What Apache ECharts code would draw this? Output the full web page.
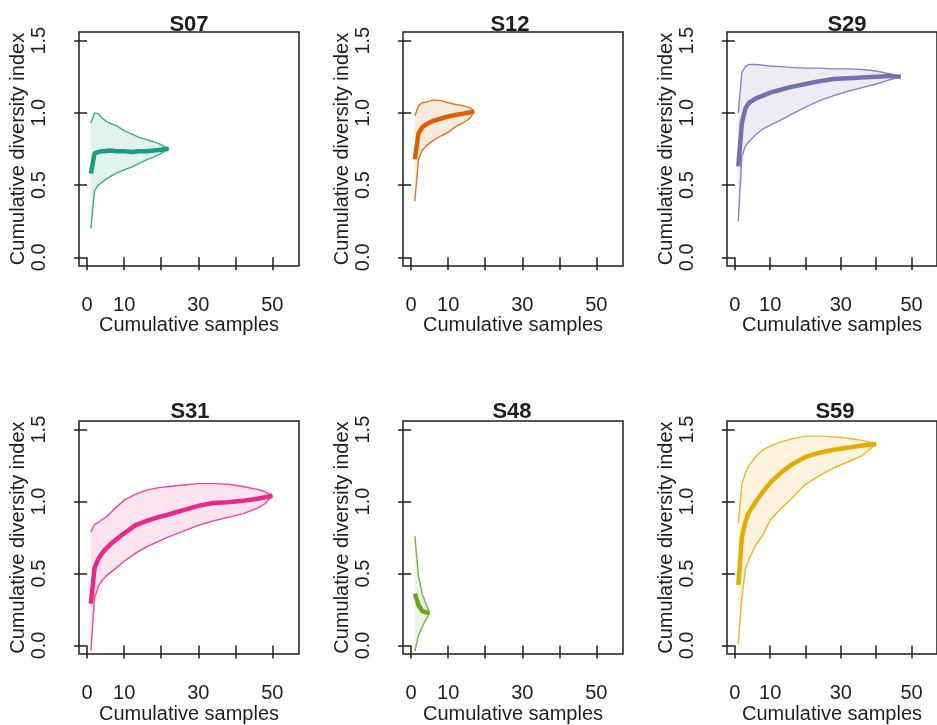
<!DOCTYPE html>
<html lang="en">
<head>
  <meta charset="UTF-8">
  <script src="https://cdn.jsdelivr.net/npm/echarts@6/dist/echarts.min.js"></script>
  <style>
    html, body { margin: 0; padding: 0; background: #fff; }
    #chart { width: 937px; height: 725px; }
  </style>
</head>
<body>
  <div id="chart"></div>
  <script>
    // ticks shared by every panel (R drops the 20 and 40 labels)
    const xTicks = [0, 10, 20, 30, 40, 50];
    const xTickLabels = [0, 10, 30, 50];
    const yTicks = [0, 0.5, 1, 1.5];

    // S07
    const s07Samples = [1, 2, 3, 4, 5, 6, 8, 10, 12, 14, 16, 18, 20, 21, 22];
    const s07Mean  = [0.58, 0.72, 0.73, 0.735, 0.735, 0.74, 0.735, 0.735, 0.73, 0.735, 0.735, 0.74, 0.745, 0.75, 0.75];
    const s07Upper = [0.93, 1.0, 0.995, 0.965, 0.945, 0.93, 0.91, 0.875, 0.855, 0.83, 0.815, 0.8, 0.78, 0.765, 0.75];
    const s07Lower = [0.2, 0.46, 0.5, 0.52, 0.54, 0.555, 0.585, 0.605, 0.625, 0.65, 0.675, 0.695, 0.72, 0.735, 0.75];

    // S12
    const s12Samples = [1, 2, 3, 4, 6, 8, 10, 12, 14, 16, 17];
    const s12Mean  = [0.68, 0.86, 0.9, 0.92, 0.945, 0.96, 0.975, 0.985, 0.995, 1.005, 1.01];
    const s12Upper = [0.98, 1.05, 1.07, 1.075, 1.09, 1.085, 1.07, 1.058, 1.05, 1.035, 1.01];
    const s12Lower = [0.39, 0.68, 0.74, 0.77, 0.81, 0.84, 0.865, 0.905, 0.93, 0.965, 1.01];

    // S29
    const s29Samples = [1, 2, 3, 4, 6, 8, 10, 13, 16, 20, 24, 28, 32, 36, 40, 44, 47];
    const s29Mean  = [0.63, 0.93, 1.03, 1.07, 1.1, 1.12, 1.14, 1.16, 1.18, 1.2, 1.22, 1.235, 1.24, 1.245, 1.25, 1.255, 1.25];
    const s29Upper = [1.0, 1.28, 1.32, 1.335, 1.335, 1.33, 1.325, 1.32, 1.315, 1.31, 1.31, 1.305, 1.305, 1.3, 1.29, 1.27, 1.25];
    const s29Lower = [0.25, 0.7, 0.77, 0.8, 0.85, 0.89, 0.915, 0.95, 0.99, 1.04, 1.085, 1.12, 1.15, 1.175, 1.2, 1.23, 1.25];

    // S31
    const s31Samples = [1, 2, 3, 4, 5, 7, 10, 13, 16, 19, 22, 26, 30, 34, 38, 42, 46, 48, 50];
    const s31Mean  = [0.29, 0.54, 0.6, 0.64, 0.67, 0.72, 0.78, 0.835, 0.865, 0.89, 0.91, 0.94, 0.97, 0.99, 0.995, 1.005, 1.02, 1.03, 1.04];
    const s31Upper = [0.79, 0.84, 0.855, 0.875, 0.89, 0.94, 1.01, 1.05, 1.08, 1.095, 1.105, 1.115, 1.125, 1.125, 1.12, 1.105, 1.085, 1.07, 1.04];
    const s31Lower = [-0.04, 0.33, 0.41, 0.45, 0.48, 0.52, 0.585, 0.64, 0.685, 0.72, 0.755, 0.795, 0.835, 0.865, 0.89, 0.915, 0.955, 0.985, 1.04];

    // S48
    const s48Samples = [1, 2, 3, 4, 5];
    const s48Mean  = [0.36, 0.28, 0.24, 0.23, 0.225];
    const s48Upper = [0.76, 0.48, 0.36, 0.29, 0.225];
    const s48Lower = [-0.04, 0.07, 0.13, 0.18, 0.225];

    // S59
    const s59Samples = [1, 2, 3, 4, 6, 8, 10, 13, 16, 20, 24, 28, 32, 36, 40];
    const s59Mean  = [0.42, 0.75, 0.86, 0.925, 1.0, 1.07, 1.13, 1.2, 1.255, 1.31, 1.34, 1.36, 1.375, 1.39, 1.4];
    const s59Upper = [0.85, 1.12, 1.2, 1.25, 1.315, 1.36, 1.385, 1.415, 1.435, 1.455, 1.455, 1.45, 1.44, 1.425, 1.4];
    const s59Lower = [0.01, 0.33, 0.53, 0.6, 0.7, 0.77, 0.87, 0.95, 1.02, 1.12, 1.18, 1.235, 1.275, 1.32, 1.4];

    const panels = [
      { name: 'S07', color: '#1b9e77', samples: s07Samples, mean: s07Mean, upper: s07Upper, lower: s07Lower },
      { name: 'S12', color: '#d95f02', samples: s12Samples, mean: s12Mean, upper: s12Upper, lower: s12Lower },
      { name: 'S29', color: '#7570b3', samples: s29Samples, mean: s29Mean, upper: s29Upper, lower: s29Lower },
      { name: 'S31', color: '#e7298a', samples: s31Samples, mean: s31Mean, upper: s31Upper, lower: s31Lower },
      { name: 'S48', color: '#66a61e', samples: s48Samples, mean: s48Mean, upper: s48Upper, lower: s48Lower },
      { name: 'S59', color: '#e6ab02', samples: s59Samples, mean: s59Mean, upper: s59Upper, lower: s59Lower }
    ];

    // panel placement in pixels
    const colLeft = [79, 403, 727];
    const rowTop = [32, 421];
    const titleX = [189, 510, 847, 190, 512, 835];
    const titleTop = [14, 401];
    const font = 'Liberation Sans, Arial, sans-serif';
    const ink = '#1e1e1e';

    function fade(hex, a) {
      const n = parseInt(hex.slice(1), 16);
      return 'rgba(' + (n >> 16) + ',' + ((n >> 8) & 255) + ',' + (n & 255) + ',' + a + ')';
    }

    const grids = [], xAxes = [], yAxes = [], titles = [], series = [];

    panels.forEach((p, i) => {
      const row = Math.floor(i / 3), col = i % 3;
      grids.push({
        left: colLeft[col], top: rowTop[row], width: 220, height: 234,
        show: true, borderColor: ink, borderWidth: 1.5, backgroundColor: 'transparent'
      });
      titles.push({
        text: p.name, left: titleX[i], top: titleTop[row], textAlign: 'center', padding: 0,
        textStyle: { fontFamily: font, fontSize: 22, fontWeight: 'bold', color: ink }
      });
      xAxes.push({
        type: 'value', gridIndex: i, min: -2.2, max: 57.2,
        name: 'Cumulative samples', nameLocation: 'middle', nameGap: 47,
        nameTextStyle: { fontFamily: font, fontSize: 20, color: ink },
        axisLine: { show: false },
        axisTick: { show: true, length: 13, customValues: xTicks, lineStyle: { color: ink, width: 1.5 } },
        axisLabel: { customValues: xTickLabels, margin: 29, fontFamily: font, fontSize: 20, color: ink },
        splitLine: { show: false }
      });
      yAxes.push({
        type: 'value', gridIndex: i, min: -0.06, max: 1.56,
        name: 'Cumulative diversity index', nameLocation: 'middle', nameGap: 45,
        nameTextStyle: { fontFamily: font, fontSize: 20, color: ink },
        axisLine: { show: false },
        axisTick: { show: true, length: 13, customValues: yTicks, lineStyle: { color: ink, width: 1.5 } },
        axisLabel: {
          customValues: yTicks, rotate: 90, margin: 30, fontFamily: font, fontSize: 20, color: ink,
          formatter: v => v.toFixed(1)
        },
        splitLine: { show: false }
      });

      const pts = arr => p.samples.map((x, k) => [x, arr[k]]);
      const base = { type: 'line', xAxisIndex: i, yAxisIndex: i, symbol: 'none', silent: true, animation: false };

      // shaded band between lower and upper envelope
      series.push({
        type: 'custom', xAxisIndex: i, yAxisIndex: i, silent: true, z: 1,
        encode: { x: 0, y: [1, 2] },
        data: p.samples.map((x, k) => [x, p.lower[k], p.upper[k]]),
        renderItem: (params, api) => {
          if (params.dataIndex !== 0) return;
          const top = p.samples.map((x, k) => api.coord([x, p.upper[k]]));
          const bottom = p.samples.map((x, k) => api.coord([x, p.lower[k]])).reverse();
          return {
            type: 'polygon',
            shape: { points: top.concat(bottom) },
            style: { fill: fade(p.color, 0.13), stroke: null }
          };
        }
      });
      // envelope lines
      series.push(Object.assign({}, base, {
        data: pts(p.upper), lineStyle: { color: p.color, width: 1.4, opacity: 0.85 }, z: 2
      }));
      series.push(Object.assign({}, base, {
        data: pts(p.lower), lineStyle: { color: p.color, width: 1.4, opacity: 0.85 }, z: 2
      }));
      // mean curve
      series.push(Object.assign({}, base, {
        data: pts(p.mean), lineStyle: { color: p.color, width: 4.5 }, z: 3
      }));
    });

    const chart = echarts.init(document.getElementById('chart'), null, { renderer: 'canvas' });
    chart.setOption({
      backgroundColor: '#fff',
      animation: false,
      title: titles,
      grid: grids,
      xAxis: xAxes,
      yAxis: yAxes,
      series: series
    });
  </script>
</body>
</html>
